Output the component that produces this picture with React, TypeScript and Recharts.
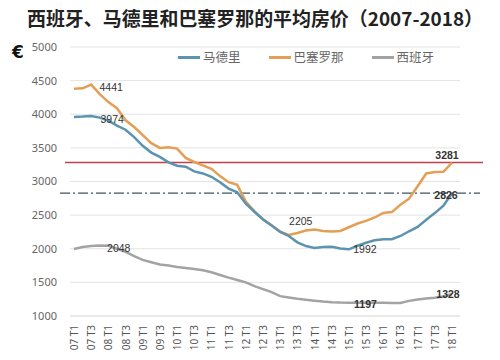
import React from "react";
import {
  LineChart,
  Line,
  XAxis,
  YAxis,
  CartesianGrid,
  ReferenceLine,
  Legend,
  LabelList,
} from "recharts";

const quarters = [
  "07 T1", "07 T2", "07 T3", "07 T4",
  "08 T1", "08 T2", "08 T3", "08 T4",
  "09 T1", "09 T2", "09 T3", "09 T4",
  "10 T1", "10 T2", "10 T3", "10 T4",
  "11 T1", "11 T2", "11 T3", "11 T4",
  "12 T1", "12 T2", "12 T3", "12 T4",
  "13 T1", "13 T2", "13 T3", "13 T4",
  "14 T1", "14 T2", "14 T3", "14 T4",
  "15 T1", "15 T2", "15 T3", "15 T4",
  "16 T1", "16 T2", "16 T3", "16 T4",
  "17 T1", "17 T2", "17 T3", "17 T4",
  "18 T1",
];

const madrid = [
  3960, 3965, 3974, 3950, 3905, 3830, 3770, 3660, 3530, 3430,
  3366, 3285, 3235, 3220, 3150, 3120, 3070, 2990, 2895, 2840,
  2670, 2550, 2435, 2345, 2250, 2190, 2095, 2040, 2010, 2025,
  2030, 2005, 1992, 2045, 2090, 2125, 2141, 2141, 2190, 2260,
  2325, 2430, 2530, 2640, 2826,
];

const barcelona = [
  4380, 4385, 4441, 4300, 4180, 4090, 3910, 3810, 3690, 3570,
  3500, 3510, 3490, 3350, 3290, 3240, 3190, 3080, 2990, 2950,
  2700, 2555, 2440, 2350, 2255, 2205, 2235, 2270, 2285, 2265,
  2255, 2265, 2320, 2375, 2415, 2465, 2533, 2545, 2655, 2745,
  2930, 3120, 3140, 3145, 3281,
];

const spain = [
  1995, 2025, 2040, 2048, 2045, 2000, 1955, 1890, 1835, 1800,
  1765, 1750, 1730, 1715, 1700, 1680, 1650, 1610, 1570, 1535,
  1500, 1445, 1400, 1355, 1295, 1275, 1255, 1240, 1228, 1215,
  1205, 1200, 1198, 1197, 1197, 1198, 1197, 1195, 1195, 1225,
  1245, 1260, 1270, 1290, 1328,
];

const yTicks = [1000, 1500, 2000, 2500, 3000, 3500, 4000, 4500, 5000];

const titleText = "西班牙、马德里和巴塞罗那的平均房价（2007-2018）";
const seriesNames = { madrid: "马德里", barcelona: "巴塞罗那", spain: "西班牙" };
const colors = { madrid: "#5b93b0", barcelona: "#e39f55", spain: "#a3a3a3" };

const data = quarters.map((q, i) => ({
  q,
  madrid: madrid[i],
  barcelona: barcelona[i],
  spain: spain[i],
}));

type Spec = { [k: number]: { dx: number; dy: number; bold?: boolean } };

const madridLabels: Spec = {
  2: { dx: 21, dy: 3 },
  32: { dx: 16, dy: 0 },
  44: { dx: -6, dy: 2, bold: true },
};
const barcelonaLabels: Spec = {
  2: { dx: 20, dy: 2 },
  25: { dx: 12, dy: -14 },
  44: { dx: -5, dy: -8, bold: true },
};
const spainLabels: Spec = {
  3: { dx: 19, dy: 2 },
  33: { dx: 8, dy: 1, bold: true },
  44: { dx: -4, dy: 0, bold: true },
};

const makeLabel = (spec: Spec) => (props: any) => {
  const s = spec[props.index];
  if (!s) return null;
  return (
    <text
      x={props.x + s.dx}
      y={props.y + s.dy}
      textAnchor="middle"
      dominantBaseline="central"
      fontSize={10.5}
      fontWeight={s.bold ? 700 : 400}
      fontFamily="'Liberation Sans', Arial, sans-serif"
      fill="#333"
    >
      {props.value}
    </text>
  );
};

const XTick = (props: any) => {
  const { x, y, payload } = props;
  return (
    <text
      x={x}
      y={y}
      transform={`rotate(-90, ${x}, ${y})`}
      textAnchor="end"
      dominantBaseline="central"
      fontSize={10}
      fontFamily="'Noto Sans', sans-serif"
      fill="#555"
    >
      {payload.value}
    </text>
  );
};

const renderLegend = () => {
  const keys: Array<"madrid" | "barcelona" | "spain"> = ["madrid", "barcelona", "spain"];
  return (
    <div style={{ display: "flex", alignItems: "center", whiteSpace: "nowrap" }}>
      {keys.map((k) => (
        <div key={k} style={{ display: "flex", alignItems: "center", marginRight: 28 }}>
          <div style={{ width: 22, height: 3, background: colors[k], marginRight: 3 }} />
          <span
            style={{
              fontSize: 12.5,
              color: "#666",
              fontFamily: "'Noto Sans CJK SC', sans-serif",
              lineHeight: "16px",
            }}
          >
            {seriesNames[k]}
          </span>
        </div>
      ))}
    </div>
  );
};

const extendShape = (left: number, right: number, stroke: string, width: number, dash?: string) => (p: any) => (
  <line
    x1={p.x1 - left}
    y1={p.y1}
    x2={p.x2 + right}
    y2={p.y2}
    stroke={stroke}
    strokeWidth={width}
    strokeDasharray={dash}
  />
);

export default function App() {
  return (
    <div
      style={{
        position: "absolute",
        left: 0,
        top: 0,
        width: 500,
        height: 360,
        background: "#fff",
        overflow: "hidden",
      }}
    >
      <LineChart
        width={500}
        height={360}
        data={data}
        margin={{ top: 47, right: 40, left: 0, bottom: 0 }}
      >
        <CartesianGrid vertical={false} stroke="#e3e3e3" />
        <XAxis
          dataKey="q"
          interval={1}
          height={44}
          tick={<XTick />}
          tickLine={false}
          tickSize={0}
          tickMargin={9}
          axisLine={{ stroke: "#e3e3e3" }}
          padding={{ left: 4, right: 8 }}
        />
        <YAxis
          domain={[1000, 5000]}
          ticks={yTicks}
          width={70}
          axisLine={false}
          tickLine={false}
          tickSize={0}
          tickMargin={13}
          tick={{ fontSize: 11, fill: "#666", fontFamily: "'Noto Sans', sans-serif" }}
        />
        <Legend
          verticalAlign="middle"
          align="center"
          layout="horizontal"
          content={renderLegend}
          wrapperStyle={{ top: 49, left: 178, width: 320 }}
        />
        <ReferenceLine
          y={barcelona[barcelona.length - 1]}
          shape={extendShape(5, 23, "#c0404a", 1.5)}
        />
        <ReferenceLine
          y={madrid[madrid.length - 1]}
          shape={extendShape(10, 20, "#3f5560", 1.2, "10 3 2 3")}
        />
        <Line
          type="linear"
          dataKey="spain"
          name={seriesNames.spain}
          stroke={colors.spain}
          strokeWidth={2.5}
          dot={false}
          isAnimationActive={false}
        >
          <LabelList dataKey="spain" content={makeLabel(spainLabels)} />
        </Line>
        <Line
          type="linear"
          dataKey="barcelona"
          name={seriesNames.barcelona}
          stroke={colors.barcelona}
          strokeWidth={2.5}
          dot={false}
          isAnimationActive={false}
        >
          <LabelList dataKey="barcelona" content={makeLabel(barcelonaLabels)} />
        </Line>
        <Line
          type="linear"
          dataKey="madrid"
          name={seriesNames.madrid}
          stroke={colors.madrid}
          strokeWidth={2.5}
          dot={false}
          isAnimationActive={false}
        >
          <LabelList dataKey="madrid" content={makeLabel(madridLabels)} />
        </Line>
      </LineChart>
      <svg
        width={500}
        height={64}
        style={{ position: "absolute", left: 0, top: 0, pointerEvents: "none" }}
      >
        <text
          x={27}
          y={26}
          fontSize={19}
          fontWeight={700}
          fill="#222"
          fontFamily="'Noto Sans CJK SC', sans-serif"
          textLength={456}
          lengthAdjust="spacingAndGlyphs"
        >
          {titleText}
        </text>
        <text
          x={12}
          y={58}
          fontSize={17}
          fontWeight={700}
          fill="#111"
          fontFamily="'DejaVu Sans', sans-serif"
        >
          €
        </text>
      </svg>
    </div>
  );
}
